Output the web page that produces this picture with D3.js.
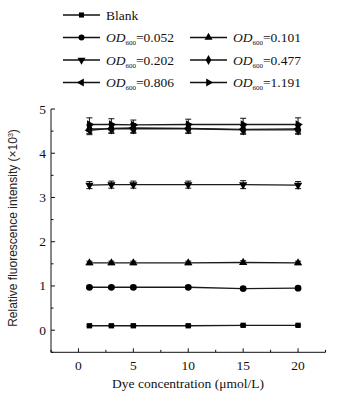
<!DOCTYPE html>
<html><head><meta charset="utf-8">
<script src="https://cdn.jsdelivr.net/npm/d3@7"></script>
<style>body{margin:0;background:#fff}svg{display:block}</style>
</head><body>
<svg id="c" width="344" height="398"></svg>
<script>
const xValues = [1, 3, 5, 10, 15, 20];
const seriesNames = ["Blank", "0.052", "0.101", "0.202", "0.477", "0.806", "1.191"];
const seriesSymbols = ["square", "circle", "up", "down", "diamond", "left", "right"];
const blank = [0.10, 0.10, 0.10, 0.10, 0.11, 0.11];
const od052 = [0.97, 0.97, 0.97, 0.97, 0.94, 0.95];
const od101 = [1.52, 1.52, 1.52, 1.52, 1.53, 1.52];
const od202 = [3.28, 3.29, 3.29, 3.29, 3.29, 3.28];
const od477 = [4.55, 4.55, 4.55, 4.55, 4.53, 4.53];
const od806 = [4.52, 4.56, 4.57, 4.56, 4.54, 4.55];
const od1191 = [4.65, 4.65, 4.64, 4.65, 4.65, 4.65];
const errBlank = [0.02, 0.02, 0.02, 0.02, 0.02, 0.02];
const err052 = [0.03, 0.03, 0.03, 0.03, 0.03, 0.03];
const err101 = [0.04, 0.04, 0.04, 0.04, 0.04, 0.04];
const err202 = [0.08, 0.08, 0.08, 0.08, 0.09, 0.08];
const err477 = [0.1, 0.1, 0.1, 0.1, 0.1, 0.1];
const err806 = [0.1, 0.1, 0.1, 0.1, 0.1, 0.1];
const err1191 = [0.15, 0.13, 0.11, 0.12, 0.14, 0.15];
const xTicks = [0, 5, 10, 15, 20];
const yTicks = [0, 1, 2, 3, 4, 5];

const allValues = [blank, od052, od101, od202, od477, od806, od1191];
const allErr = [errBlank, err052, err101, err202, err477, err806, err1191];

const svg = d3.select("#c");
const x = d3.scaleLinear().domain([-2.5, 22.5]).range([51, 325.5]);
const y = d3.scaleLinear().domain([-0.5, 5]).range([352.3, 109]);

const serif = "'Liberation Serif','Times New Roman',serif";

// Axes
const ax = svg.append("g").attr("stroke", "#111").attr("stroke-width", 1);
ax.append("line").attr("x1", x(-2.5)).attr("x2", x(22.5)).attr("y1", y(-0.5)).attr("y2", y(-0.5));
ax.append("line").attr("x1", x(-2.5)).attr("x2", x(-2.5)).attr("y1", y(-0.5)).attr("y2", y(5));
d3.range(-2.5, 22.51, 2.5).forEach(v => {
  const major = xTicks.includes(v);
  ax.append("line").attr("x1", x(v)).attr("x2", x(v)).attr("y1", y(-0.5)).attr("y2", y(-0.5) - (major ? 4 : 2.5));
});
d3.range(-0.5, 5.01, 0.5).forEach(v => {
  const r = Math.round(v * 10) / 10;
  const major = yTicks.includes(r);
  ax.append("line").attr("x1", x(-2.5)).attr("x2", x(-2.5) + (major ? 4 : 2.5)).attr("y1", y(r)).attr("y2", y(r));
});
svg.append("g").selectAll("text").data(xTicks).join("text")
  .attr("x", d => x(d)).attr("y", 369.5).attr("text-anchor", "middle")
  .attr("font-family", serif).attr("font-size", 13.5).attr("fill", "#111").text(d => d);
svg.append("g").selectAll("text").data(yTicks).join("text")
  .attr("x", 46).attr("y", d => y(d) + 4.5).attr("text-anchor", "end")
  .attr("font-family", serif).attr("font-size", 13.5).attr("fill", "#111").text(d => d);
svg.append("text").attr("x", 188).attr("y", 388).attr("text-anchor", "middle")
  .attr("font-family", serif).attr("font-size", 13.5).attr("fill", "#111").text("Dye concentration (μmol/L)");
const yl = svg.append("text").attr("transform", "translate(17,228) rotate(-90)").attr("text-anchor", "middle")
  .attr("font-family", "'Liberation Sans',Arial,sans-serif").attr("font-size", 12).attr("fill", "#222");
yl.append("tspan").text("Relative fluorescence intensity (×10");
yl.append("tspan").attr("font-size", 7).attr("dy", -4).text("3");
yl.append("tspan").attr("dy", 4).text(")");

function symPath(kind, size) {
  if (kind === "square") return d3.symbol(d3.symbolSquare, size)();
  if (kind === "circle") return d3.symbol(d3.symbolCircle, size)();
  if (kind === "diamond") return d3.symbol(d3.symbolDiamond, size)();
  return d3.symbol(d3.symbolTriangle, size)();
}
function symRot(kind) {
  return {up: 0, down: 180, left: -90, right: 90}[kind] || 0;
}

const lineGen = d3.line().x(d => x(d[0])).y(d => y(d[1]));
const plot = svg.append("g");
allValues.forEach((vals, i) => {
  const pts = xValues.map((xv, j) => [xv, vals[j], allErr[i][j]]);
  const g = plot.append("g");
  g.append("path").attr("d", lineGen(pts)).attr("fill", "none").attr("stroke", "#1a1a1a").attr("stroke-width", 1.3);
  pts.forEach(p => {
    const cx = x(p[0]), t = y(p[1] + p[2]), b = y(p[1] - p[2]);
    g.append("line").attr("x1", cx).attr("x2", cx).attr("y1", t).attr("y2", b).attr("stroke", "#111").attr("stroke-width", 1);
    g.append("line").attr("x1", cx - 3).attr("x2", cx + 3).attr("y1", t).attr("y2", t).attr("stroke", "#111").attr("stroke-width", 1);
    g.append("line").attr("x1", cx - 3).attr("x2", cx + 3).attr("y1", b).attr("y2", b).attr("stroke", "#111").attr("stroke-width", 1);
  });
  const kind = seriesSymbols[i];
  g.selectAll("path.m").data(pts).join("path").attr("class", "m")
    .attr("d", symPath(kind, kind === "circle" ? 36 : kind === "diamond" ? 36 : kind === "square" ? 28 : 30))
    .attr("transform", d => `translate(${x(d[0])},${y(d[1])}) rotate(${symRot(kind)})`)
    .attr("fill", "#000");
});

const legendPos = [[63, 15], [63, 37.5], [190, 37.5], [63, 60], [190, 60], [63, 82.5], [190, 82.5]];
seriesNames.forEach((name, i) => {
  const [lx, ly] = legendPos[i];
  const g = svg.append("g").attr("transform", `translate(${lx},${ly})`);
  g.append("line").attr("x1", 0).attr("x2", 37).attr("y1", 0).attr("y2", 0).attr("stroke", "#111").attr("stroke-width", 1.3);
  const kind = seriesSymbols[i];
  g.append("path").attr("d", symPath(kind, kind === "square" ? 26 : 28))
    .attr("transform", `translate(18.5,0) rotate(${symRot(kind)})`).attr("fill", "#000");
  const t = g.append("text").attr("x", 43).attr("y", 4.5).attr("font-family", serif).attr("font-size", 13.5).attr("fill", "#111");
  if (i === 0) { t.text(name); }
  else {
    t.append("tspan").attr("font-style", "italic").text("OD");
    t.append("tspan").attr("font-size", 7).attr("dy", 3).text("600");
    t.append("tspan").attr("dy", -3).text("=" + name);
  }
});
</script>
</body></html>
